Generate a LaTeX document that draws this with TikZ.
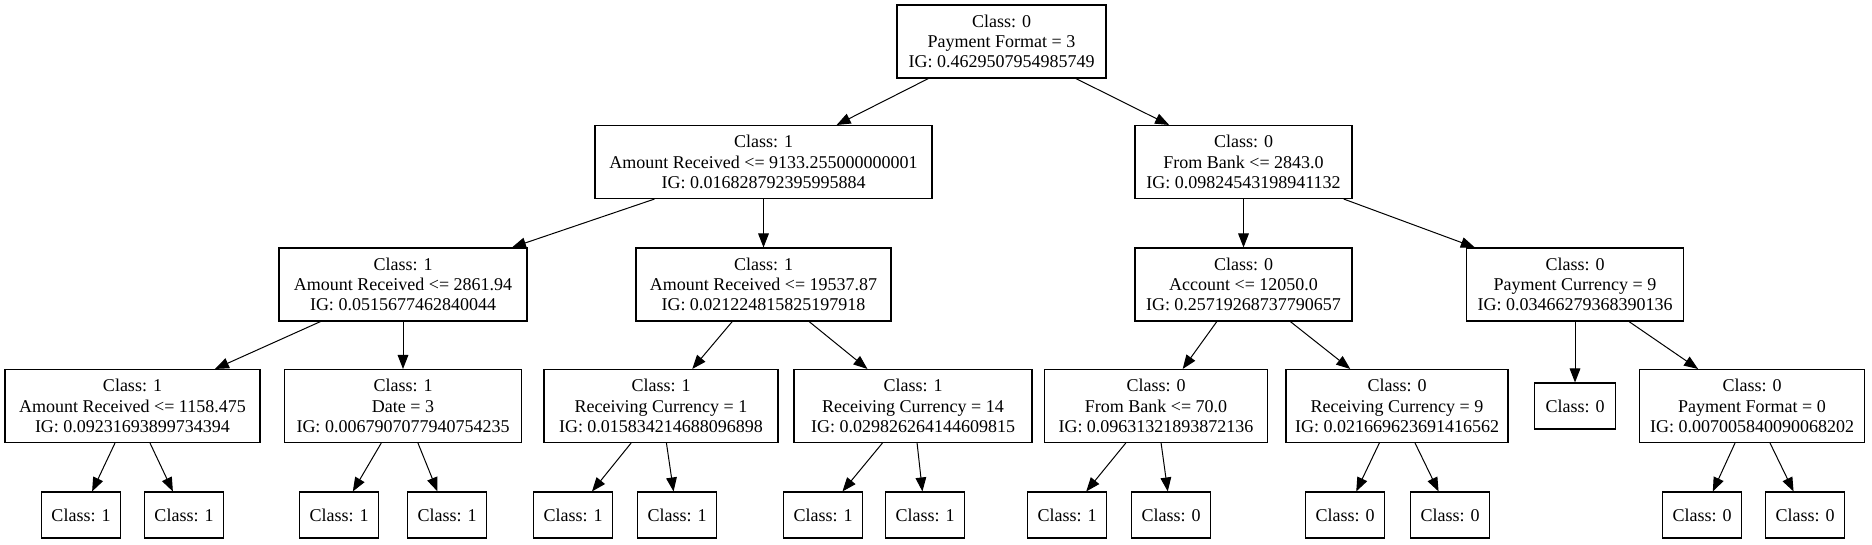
\documentclass[tikz,border=0pt]{standalone}
\usepackage{fontspec}
\setmainfont{Liberation Serif}
\usetikzlibrary{arrows.meta}
\begin{document}
\begin{tikzpicture}[x=0.75pt,y=-0.75pt,
  tn/.style={draw, line width=0.8pt, align=center, font=\fontsize{13.5}{15.2}\selectfont, minimum height=73*0.75pt, inner sep=0pt, minimum width=#1*0.75pt},
  lf/.style={draw, line width=0.8pt, font=\fontsize{13.5}{15.2}\selectfont, minimum height=46*0.75pt, inner sep=0pt, minimum width=#1*0.75pt},
  lf/.default=79,
  ed/.style={-{Triangle[length=10.5pt,width=8pt]}, line width=0.75pt}]
\useasboundingbox (0,0) rectangle (1872,545);
% level 0
\node[tn=209] (r) at (1001.5,41.5) {Class: 0\\Payment Format = 3\\IG: 0.4629507954985749};
% level 1
\node[tn=337] (a) at (763.5,162) {Class: 1\\Amount Received <= 9133.255000000001\\IG: 0.016828792395995884};
\node[tn=217] (b) at (1243.5,162) {Class: 0\\From Bank <= 2843.0\\IG: 0.09824543198941132};
% level 2
\node[tn=248] (aa) at (403,284.5) {Class: 1\\Amount Received <= 2861.94\\IG: 0.0515677462840044};
\node[tn=255] (ab) at (763.5,284.5) {Class: 1\\Amount Received <= 19537.87\\IG: 0.021224815825197918};
\node[tn=217] (ba) at (1243.5,284.5) {Class: 0\\Account <= 12050.0\\IG: 0.25719268737790657};
\node[tn=217] (bb) at (1575,284.5) {Class: 0\\Payment Currency = 9\\IG: 0.03466279368390136};
% level 3
\node[tn=255] (aaa) at (132.5,406) {Class: 1\\Amount Received <= 1158.475\\IG: 0.09231693899734394};
\node[tn=237] (aab) at (403,406) {Class: 1\\Date = 3\\IG: 0.0067907077940754235};
\node[tn=234] (aba) at (661,406) {Class: 1\\Receiving Currency = 1\\IG: 0.015834214688096898};
\node[tn=238] (abb) at (913,406) {Class: 1\\Receiving Currency = 14\\IG: 0.029826264144609815};
\node[tn=223] (baa) at (1156,406) {Class: 0\\From Bank <= 70.0\\IG: 0.09631321893872136};
\node[tn=222] (bab) at (1397,406) {Class: 0\\Receiving Currency = 9\\IG: 0.021669623691416562};
\node[lf=81] (bba) at (1575,406) {Class: 0};
\node[tn=225] (bbb) at (1752,406) {Class: 0\\Payment Format = 0\\IG: 0.007005840090068202};
% level 4
\node[lf] (l1) at (81,515) {Class: 1};
\node[lf] (l2) at (184,515) {Class: 1};
\node[lf] (l3) at (339,515) {Class: 1};
\node[lf] (l4) at (447,515) {Class: 1};
\node[lf] (l5) at (573,515) {Class: 1};
\node[lf] (l6) at (677,515) {Class: 1};
\node[lf] (l7) at (823,515) {Class: 1};
\node[lf] (l8) at (925,515) {Class: 1};
\node[lf] (l9) at (1067,515) {Class: 1};
\node[lf] (l10) at (1171,515) {Class: 0};
\node[lf] (l11) at (1345,515) {Class: 0};
\node[lf] (l12) at (1450,515) {Class: 0};
\node[lf] (l13) at (1702,515) {Class: 0};
\node[lf] (l14) at (1805,515) {Class: 0};
% edges
\draw[ed] (r) -- (a);
\draw[ed] (r) -- (b);
\draw[ed] (a) -- (aa);
\draw[ed] (a) -- (ab);
\draw[ed] (b) -- (ba);
\draw[ed] (b) -- (bb);
\draw[ed] (aa) -- (aaa);
\draw[ed] (aa) -- (aab);
\draw[ed] (ab) -- (aba);
\draw[ed] (ab) -- (abb);
\draw[ed] (ba) -- (baa);
\draw[ed] (ba) -- (bab);
\draw[ed] (bb) -- (bba);
\draw[ed] (bb) -- (bbb);
\draw[ed] (aaa) -- (l1);
\draw[ed] (aaa) -- (l2);
\draw[ed] (aab) -- (l3);
\draw[ed] (aab) -- (l4);
\draw[ed] (aba) -- (l5);
\draw[ed] (aba) -- (l6);
\draw[ed] (abb) -- (l7);
\draw[ed] (abb) -- (l8);
\draw[ed] (baa) -- (l9);
\draw[ed] (baa) -- (l10);
\draw[ed] (bab) -- (l11);
\draw[ed] (bab) -- (l12);
\draw[ed] (bbb) -- (l13);
\draw[ed] (bbb) -- (l14);
\end{tikzpicture}
\end{document}
